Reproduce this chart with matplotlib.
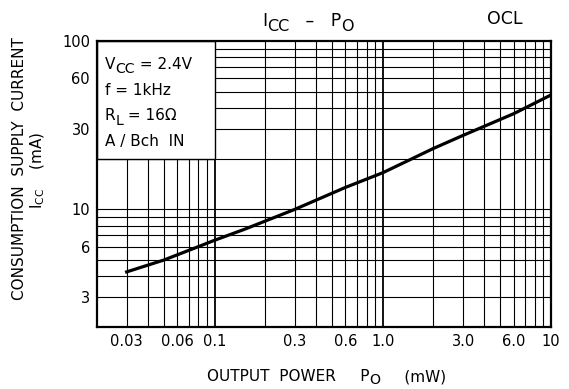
import matplotlib.pyplot as plt
from matplotlib.patches import Rectangle

plt.rcParams['font.family'] = ['DejaVu Sans']
plt.rcParams['mathtext.default'] = 'regular'

# curva
po_mw = [0.03, 0.05, 0.08, 0.1, 0.15, 0.3, 0.6, 1.0, 2.0, 3.0, 6.0, 10.0]
icc_ma = [4.25, 5.0, 6.0, 6.55, 7.6, 10.0, 13.5, 16.5, 23.0, 27.5, 37.0, 47.8]

xticks = [0.03, 0.06, 0.1, 0.3, 0.6, 1.0, 3.0, 6.0, 10]
xtick_labels = ['0.03', '0.06', '0.1', '0.3', '0.6', '1.0', '3.0', '6.0', '10']
yticks = [3, 6, 10, 30, 60, 100]
ytick_labels = ['3', '6', '10', '30', '60', '100']

# (texto, es_subindice)
condiciones = [
    [('V', False), ('CC', True), (' = 2.4V', False)],
    [('f = 1kHz', False)],
    [('R', False), ('L', True), (' = 16\u03a9', False)],
    [('A / Bch  IN', False)],
]
titulo = [('I', False), ('CC', True), ('   \u2013   P', False), ('O', True)]
etiqueta_x = [('OUTPUT  POWER     P', False), ('O', True), ('     (mW)', False)]

fig = plt.figure(figsize=(5.69, 3.89), dpi=100)
ax = fig.add_axes([0.1705, 0.1594, 0.7979, 0.7352])
ax.set_xscale('log')
ax.set_yscale('log')
ax.set_xlim(0.02, 10)
ax.set_ylim(2, 100)

# rejilla
xgrid = [m * d for d in (0.01, 0.1, 1.0) for m in range(1, 10)] + [10]
ygrid = [m * d for d in (1, 10) for m in range(1, 10)] + [100]
for xv in xgrid:
    if 0.02 < xv < 10:
        ax.axvline(xv, color='black', lw=1.3 if xv in (0.1, 1.0) else 0.8, zorder=1)
for yv in ygrid:
    if 2 < yv < 100:
        ax.axhline(yv, color='black', lw=0.8, zorder=1)

# cuadro de condiciones
ax.add_patch(Rectangle((0.02, 20), 0.1 - 0.02, 80, facecolor='white',
                       edgecolor='black', lw=1.0, zorder=2))


def escribir(x_px, y_px, partes, size, bajada=3.0):
    # subindices casi del mismo tamano, solo desplazados hacia abajo
    actual = fig.text(x_px / 569, 1 - y_px / 389, partes[0][0], fontsize=size,
                      ha='left', va='bottom')
    previo_sub = partes[0][1]
    for txt, sub in partes[1:]:
        dy = 0
        if sub and not previo_sub:
            dy = -bajada
        elif previo_sub and not sub:
            dy = bajada
        actual = ax.annotate(txt, xy=(1, 0), xycoords=actual,
                             xytext=(0, dy), textcoords='offset points',
                             fontsize=size * (0.92 if sub else 1.0),
                             ha='left', va='bottom', annotation_clip=False)
        previo_sub = sub


for i, partes in enumerate(condiciones):
    escribir(105, 72 + i * 25.7, partes, 11)

escribir(262, 30, titulo, 12.5)
fig.text(505 / 569, 1 - 19 / 389, 'OCL', fontsize=12.5, ha='center', va='center')
escribir(207, 384, etiqueta_x, 11, bajada=2.5)

ax.plot(po_mw, icc_ma, color='black', lw=2.3, zorder=3)

for s in ax.spines.values():
    s.set_linewidth(1.6)
    s.set_zorder(4)

ax.set_xticks(xticks)
ax.set_xticklabels(xtick_labels)
ax.set_yticks(yticks)
ax.set_yticklabels(ytick_labels)
ax.minorticks_off()
ax.tick_params(length=0, labelsize=10.5, pad=5)

fig.text(20 / 569, 1 - 169 / 389, 'CONSUMPTION  SUPPLY  CURRENT', fontsize=11,
         rotation=90, ha='center', va='center')
fig.text(38 / 569, 1 - 170 / 389, r'I$_{CC}$    (mA)', fontsize=11,
         rotation=90, ha='center', va='center')

fig.savefig('out.png', dpi=100)
